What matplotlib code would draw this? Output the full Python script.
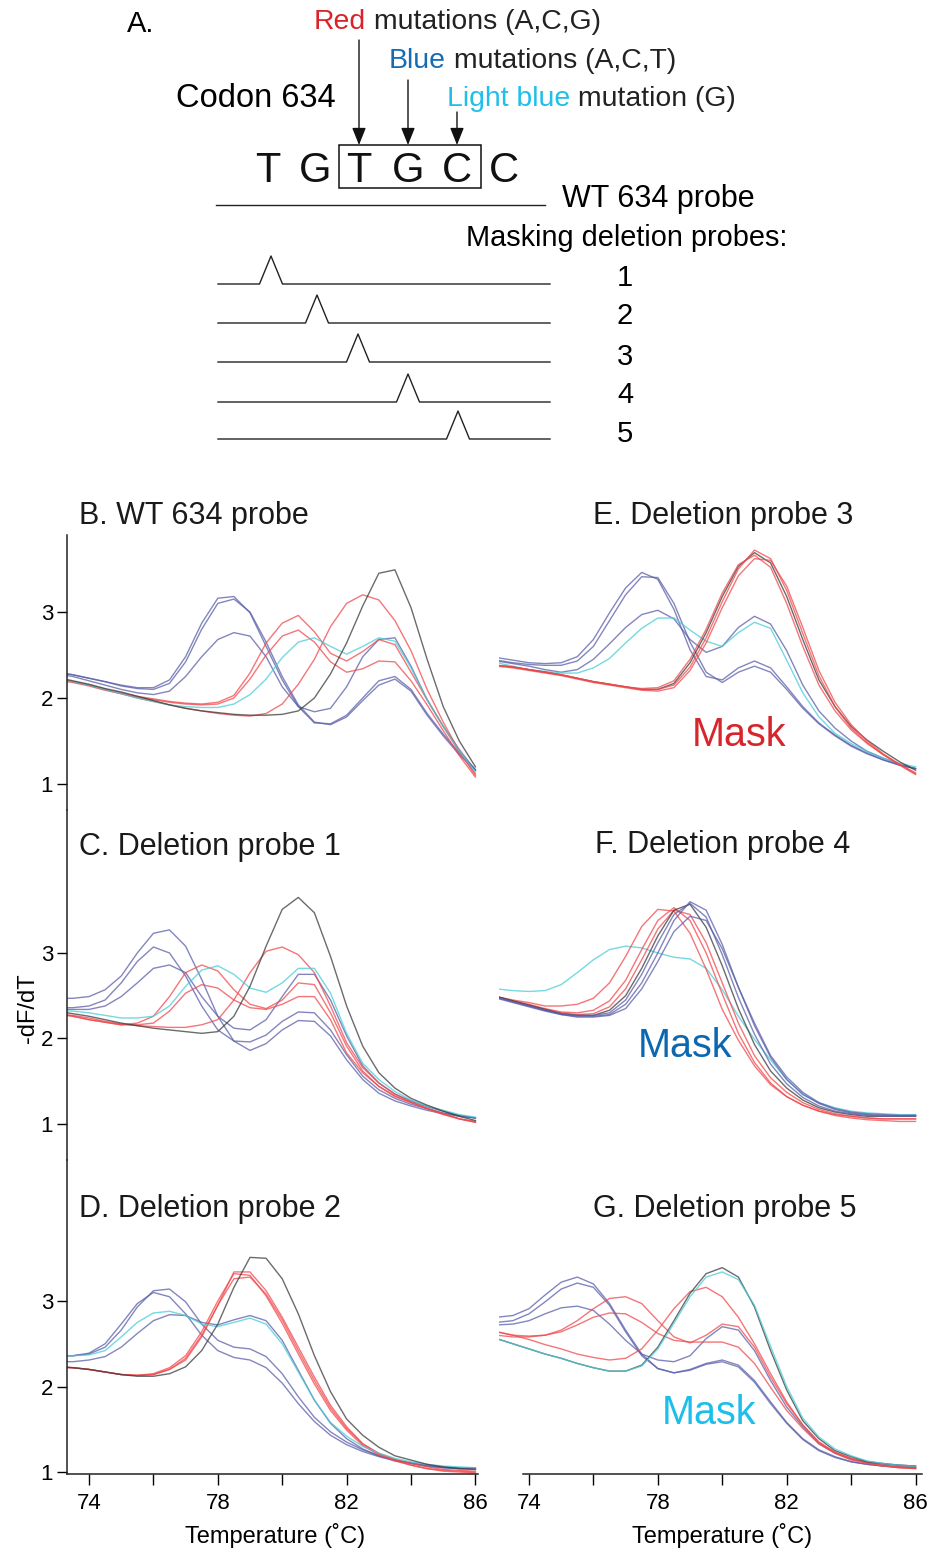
import matplotlib
matplotlib.use("Agg")
import matplotlib.pyplot as plt
from matplotlib.patches import Rectangle
import numpy as np

plt.rcParams['font.family'] = ['Liberation Sans', 'DejaVu Sans']

# temperature grid of the melting curves (deg C)
temps = np.arange(73.0, 86.01, 0.5)

# B. WT 634 probe
b_black = [2.24, 2.20, 2.16, 2.11, 2.07, 2.02, 1.97, 1.92, 1.88, 1.85, 1.83, 1.81, 1.80, 1.80, 1.81, 1.85, 2.00, 2.28, 2.64, 3.07, 3.45, 3.49, 3.05, 2.45, 1.90, 1.50, 1.20]
b_red1 = [2.22, 2.19, 2.15, 2.10, 2.05, 2.00, 1.96, 1.92, 1.88, 1.85, 1.82, 1.80, 1.79, 1.82, 1.93, 2.16, 2.45, 2.83, 3.10, 3.20, 3.14, 2.90, 2.55, 2.10, 1.72, 1.38, 1.10]
b_red2 = [2.22, 2.19, 2.15, 2.10, 2.06, 2.02, 1.99, 1.96, 1.94, 1.93, 1.95, 2.03, 2.29, 2.64, 2.87, 2.96, 2.77, 2.52, 2.43, 2.54, 2.68, 2.62, 2.30, 1.98, 1.67, 1.37, 1.12]
b_red3 = [2.21, 2.18, 2.14, 2.09, 2.05, 2.01, 1.98, 1.95, 1.93, 1.92, 1.93, 2.00, 2.22, 2.50, 2.72, 2.79, 2.65, 2.42, 2.30, 2.34, 2.43, 2.42, 2.20, 1.92, 1.62, 1.33, 1.08]
b_cyan = [2.22, 2.19, 2.15, 2.10, 2.05, 2.00, 1.96, 1.92, 1.90, 1.89, 1.89, 1.93, 2.04, 2.22, 2.47, 2.65, 2.70, 2.60, 2.51, 2.60, 2.70, 2.66, 2.35, 1.98, 1.67, 1.38, 1.14]
b_blue1 = [2.30, 2.27, 2.23, 2.19, 2.15, 2.12, 2.12, 2.21, 2.48, 2.87, 3.16, 3.18, 2.99, 2.60, 2.21, 1.90, 1.71, 1.70, 1.80, 2.00, 2.20, 2.25, 2.10, 1.82, 1.58, 1.36, 1.17]
b_blue2 = [2.30, 2.27, 2.23, 2.19, 2.14, 2.11, 2.10, 2.17, 2.42, 2.80, 3.10, 3.15, 3.00, 2.65, 2.25, 1.92, 1.72, 1.69, 1.78, 1.97, 2.15, 2.22, 2.08, 1.80, 1.56, 1.34, 1.16]
b_blue3 = [2.28, 2.25, 2.20, 2.15, 2.10, 2.06, 2.04, 2.08, 2.25, 2.48, 2.68, 2.76, 2.72, 2.48, 2.13, 1.90, 1.84, 1.88, 2.13, 2.48, 2.68, 2.70, 2.37, 1.98, 1.67, 1.40, 1.16]

# C. Deletion probe 1
c_black = [2.32, 2.29, 2.26, 2.22, 2.18, 2.15, 2.12, 2.10, 2.08, 2.06, 2.08, 2.26, 2.61, 3.08, 3.51, 3.65, 3.47, 2.96, 2.38, 1.91, 1.60, 1.42, 1.30, 1.22, 1.15, 1.09, 1.04]
c_red1 = [2.29, 2.27, 2.24, 2.20, 2.17, 2.15, 2.14, 2.13, 2.13, 2.16, 2.22, 2.45, 2.77, 3.02, 3.07, 2.98, 2.77, 2.38, 1.95, 1.66, 1.48, 1.35, 1.26, 1.18, 1.12, 1.06, 1.02]
c_red2 = [2.29, 2.26, 2.22, 2.19, 2.16, 2.18, 2.26, 2.49, 2.77, 2.86, 2.79, 2.57, 2.40, 2.35, 2.45, 2.65, 2.63, 2.30, 1.91, 1.62, 1.44, 1.32, 1.25, 1.18, 1.11, 1.06, 1.03]
c_red3 = [2.29, 2.26, 2.22, 2.19, 2.16, 2.16, 2.18, 2.32, 2.53, 2.63, 2.59, 2.45, 2.36, 2.34, 2.40, 2.49, 2.49, 2.22, 1.83, 1.60, 1.44, 1.33, 1.25, 1.18, 1.12, 1.06, 1.02]
c_cyan = [2.33, 2.32, 2.30, 2.27, 2.24, 2.24, 2.26, 2.38, 2.61, 2.80, 2.85, 2.75, 2.59, 2.54, 2.65, 2.82, 2.82, 2.53, 2.06, 1.71, 1.52, 1.38, 1.28, 1.21, 1.16, 1.11, 1.08]
c_blue1 = [2.47, 2.47, 2.49, 2.57, 2.73, 3.00, 3.23, 3.27, 3.08, 2.69, 2.26, 1.97, 1.86, 1.94, 2.10, 2.21, 2.20, 2.03, 1.75, 1.52, 1.36, 1.27, 1.21, 1.16, 1.12, 1.09, 1.07]
c_blue2 = [2.36, 2.36, 2.38, 2.45, 2.65, 2.90, 3.07, 3.00, 2.73, 2.38, 2.10, 1.97, 1.96, 2.04, 2.20, 2.31, 2.30, 2.10, 1.81, 1.56, 1.40, 1.30, 1.23, 1.18, 1.13, 1.10, 1.07]
c_blue3 = [2.34, 2.34, 2.34, 2.38, 2.49, 2.65, 2.82, 2.86, 2.77, 2.49, 2.26, 2.12, 2.10, 2.22, 2.49, 2.75, 2.75, 2.45, 2.03, 1.68, 1.48, 1.35, 1.27, 1.20, 1.15, 1.10, 1.07]

# D. Deletion probe 2
d_black = [2.23, 2.22, 2.20, 2.17, 2.14, 2.12, 2.12, 2.15, 2.23, 2.42, 2.73, 3.16, 3.51, 3.50, 3.26, 2.85, 2.36, 1.94, 1.62, 1.43, 1.29, 1.19, 1.14, 1.09, 1.06, 1.04, 1.03]
d_red1 = [2.23, 2.22, 2.20, 2.17, 2.14, 2.13, 2.14, 2.20, 2.31, 2.58, 2.95, 3.34, 3.34, 3.12, 2.81, 2.46, 2.11, 1.78, 1.53, 1.33, 1.21, 1.14, 1.08, 1.04, 1.01, 1.00, 0.99]
d_red2 = [2.23, 2.22, 2.20, 2.17, 2.14, 2.13, 2.15, 2.22, 2.36, 2.64, 3.00, 3.32, 3.30, 3.06, 2.74, 2.38, 2.03, 1.72, 1.49, 1.31, 1.20, 1.13, 1.08, 1.04, 1.02, 1.01, 1.00]
d_red3 = [2.23, 2.22, 2.20, 2.17, 2.14, 2.13, 2.14, 2.20, 2.33, 2.60, 2.95, 3.26, 3.28, 3.08, 2.78, 2.42, 2.07, 1.75, 1.51, 1.33, 1.22, 1.15, 1.10, 1.06, 1.03, 1.02, 1.01]
d_cyan = [2.36, 2.36, 2.37, 2.42, 2.58, 2.75, 2.86, 2.88, 2.83, 2.73, 2.70, 2.75, 2.80, 2.73, 2.50, 2.17, 1.84, 1.58, 1.42, 1.30, 1.22, 1.16, 1.12, 1.09, 1.07, 1.06, 1.05]
d_blue1 = [2.36, 2.36, 2.38, 2.46, 2.66, 2.93, 3.12, 3.14, 2.99, 2.73, 2.54, 2.46, 2.44, 2.35, 2.15, 1.88, 1.64, 1.47, 1.35, 1.26, 1.19, 1.14, 1.10, 1.07, 1.05, 1.04, 1.04]
d_blue2 = [2.36, 2.36, 2.39, 2.50, 2.73, 2.97, 3.10, 3.05, 2.85, 2.60, 2.42, 2.34, 2.31, 2.22, 2.04, 1.80, 1.59, 1.43, 1.32, 1.24, 1.18, 1.13, 1.10, 1.07, 1.05, 1.04, 1.04]
d_blue3 = [2.29, 2.29, 2.31, 2.35, 2.46, 2.62, 2.77, 2.84, 2.83, 2.75, 2.72, 2.78, 2.83, 2.77, 2.54, 2.19, 1.84, 1.57, 1.39, 1.27, 1.19, 1.14, 1.11, 1.08, 1.06, 1.05, 1.05]

# E. Deletion probe 3
e_black = [2.38, 2.36, 2.33, 2.30, 2.27, 2.23, 2.19, 2.16, 2.13, 2.10, 2.10, 2.17, 2.41, 2.76, 3.18, 3.53, 3.69, 3.57, 3.18, 2.68, 2.21, 1.90, 1.67, 1.51, 1.38, 1.26, 1.16]
e_red1 = [2.38, 2.36, 2.33, 2.30, 2.27, 2.23, 2.19, 2.16, 2.13, 2.10, 2.10, 2.15, 2.36, 2.70, 3.12, 3.50, 3.72, 3.62, 3.25, 2.75, 2.26, 1.90, 1.65, 1.48, 1.34, 1.22, 1.11]
e_red2 = [2.37, 2.35, 2.32, 2.29, 2.26, 2.22, 2.18, 2.15, 2.12, 2.09, 2.08, 2.12, 2.32, 2.64, 3.05, 3.42, 3.62, 3.60, 3.30, 2.82, 2.32, 1.95, 1.69, 1.50, 1.35, 1.23, 1.12]
e_red3 = [2.38, 2.36, 2.33, 2.30, 2.27, 2.23, 2.19, 2.16, 2.13, 2.11, 2.12, 2.20, 2.45, 2.80, 3.22, 3.55, 3.66, 3.52, 3.10, 2.60, 2.15, 1.85, 1.63, 1.47, 1.34, 1.23, 1.13]
e_cyan = [2.41, 2.37, 2.33, 2.31, 2.29, 2.29, 2.35, 2.46, 2.64, 2.81, 2.93, 2.93, 2.79, 2.66, 2.60, 2.76, 2.88, 2.81, 2.44, 2.06, 1.78, 1.59, 1.47, 1.38, 1.30, 1.24, 1.20]
e_blue1 = [2.47, 2.44, 2.41, 2.40, 2.41, 2.48, 2.68, 2.99, 3.28, 3.46, 3.38, 3.03, 2.56, 2.25, 2.21, 2.35, 2.43, 2.35, 2.13, 1.90, 1.71, 1.57, 1.45, 1.36, 1.28, 1.22, 1.18]
e_blue2 = [2.44, 2.41, 2.39, 2.38, 2.38, 2.43, 2.60, 2.90, 3.20, 3.41, 3.40, 3.10, 2.65, 2.30, 2.18, 2.30, 2.37, 2.30, 2.10, 1.88, 1.70, 1.56, 1.44, 1.35, 1.28, 1.22, 1.18]
e_blue3 = [2.43, 2.40, 2.37, 2.33, 2.30, 2.33, 2.45, 2.63, 2.82, 2.97, 3.02, 2.92, 2.68, 2.53, 2.60, 2.82, 2.95, 2.86, 2.55, 2.15, 1.85, 1.65, 1.50, 1.38, 1.30, 1.23, 1.18]

# F. Deletion probe 4
f_cyan = [2.58, 2.56, 2.55, 2.56, 2.63, 2.77, 2.92, 3.04, 3.08, 3.06, 3.00, 2.95, 2.93, 2.82, 2.57, 2.26, 1.99, 1.75, 1.52, 1.34, 1.25, 1.19, 1.15, 1.13, 1.12, 1.11, 1.11]
f_red1 = [2.49, 2.45, 2.42, 2.38, 2.38, 2.40, 2.47, 2.65, 2.96, 3.31, 3.51, 3.49, 3.23, 2.81, 2.34, 1.98, 1.68, 1.46, 1.32, 1.22, 1.15, 1.10, 1.07, 1.05, 1.04, 1.03, 1.03]
f_red2 = [2.49, 2.44, 2.40, 2.35, 2.31, 2.30, 2.33, 2.44, 2.68, 3.04, 3.38, 3.53, 3.38, 3.00, 2.52, 2.06, 1.72, 1.48, 1.32, 1.22, 1.15, 1.11, 1.09, 1.07, 1.06, 1.06, 1.06]
f_red3 = [2.49, 2.44, 2.39, 2.34, 2.30, 2.28, 2.29, 2.37, 2.58, 2.92, 3.28, 3.50, 3.45, 3.12, 2.65, 2.18, 1.80, 1.54, 1.37, 1.25, 1.17, 1.12, 1.09, 1.07, 1.06, 1.06, 1.06]
f_black = [2.49, 2.44, 2.39, 2.34, 2.29, 2.27, 2.27, 2.33, 2.50, 2.82, 3.20, 3.50, 3.57, 3.30, 2.85, 2.35, 1.93, 1.62, 1.42, 1.28, 1.19, 1.14, 1.11, 1.09, 1.09, 1.09, 1.09]
f_blue1 = [2.48, 2.43, 2.38, 2.33, 2.28, 2.26, 2.26, 2.28, 2.40, 2.65, 3.00, 3.38, 3.60, 3.50, 3.10, 2.60, 2.15, 1.78, 1.52, 1.35, 1.24, 1.17, 1.13, 1.11, 1.10, 1.10, 1.10]
f_blue2 = [2.47, 2.42, 2.37, 2.32, 2.28, 2.25, 2.25, 2.27, 2.35, 2.58, 2.90, 3.25, 3.43, 3.38, 3.05, 2.60, 2.18, 1.80, 1.55, 1.37, 1.25, 1.18, 1.14, 1.12, 1.11, 1.10, 1.10]
f_blue3 = [2.48, 2.43, 2.38, 2.33, 2.29, 2.27, 2.27, 2.30, 2.45, 2.75, 3.12, 3.45, 3.58, 3.42, 2.98, 2.48, 2.05, 1.70, 1.47, 1.31, 1.21, 1.15, 1.12, 1.10, 1.09, 1.09, 1.09]

# G. Deletion probe 5
g_black = [2.56, 2.50, 2.44, 2.38, 2.33, 2.27, 2.22, 2.18, 2.18, 2.25, 2.46, 2.77, 3.09, 3.32, 3.39, 3.28, 2.93, 2.42, 1.96, 1.60, 1.39, 1.25, 1.18, 1.12, 1.10, 1.08, 1.07]
g_cyan = [2.56, 2.50, 2.44, 2.38, 2.33, 2.27, 2.22, 2.18, 2.18, 2.24, 2.44, 2.74, 3.05, 3.28, 3.34, 3.25, 2.95, 2.47, 2.00, 1.63, 1.41, 1.27, 1.19, 1.13, 1.10, 1.08, 1.07]
g_red1 = [2.64, 2.60, 2.55, 2.49, 2.44, 2.38, 2.34, 2.31, 2.33, 2.44, 2.66, 2.91, 3.11, 3.16, 3.05, 2.81, 2.50, 2.15, 1.82, 1.55, 1.35, 1.23, 1.16, 1.11, 1.08, 1.06, 1.05]
g_red2 = [2.64, 2.60, 2.59, 2.60, 2.66, 2.77, 2.91, 3.03, 3.05, 2.97, 2.77, 2.58, 2.51, 2.60, 2.73, 2.70, 2.46, 2.11, 1.80, 1.55, 1.35, 1.23, 1.16, 1.11, 1.07, 1.05, 1.04]
g_red3 = [2.60, 2.58, 2.58, 2.60, 2.64, 2.72, 2.81, 2.86, 2.85, 2.75, 2.62, 2.54, 2.52, 2.52, 2.52, 2.46, 2.27, 1.99, 1.72, 1.51, 1.33, 1.22, 1.14, 1.10, 1.07, 1.05, 1.04]
g_blue1 = [2.81, 2.83, 2.91, 3.07, 3.22, 3.28, 3.20, 2.97, 2.66, 2.38, 2.21, 2.16, 2.20, 2.27, 2.31, 2.25, 2.07, 1.82, 1.58, 1.39, 1.26, 1.18, 1.12, 1.09, 1.07, 1.06, 1.05]
g_blue2 = [2.75, 2.77, 2.85, 2.99, 3.14, 3.21, 3.16, 2.95, 2.64, 2.36, 2.21, 2.16, 2.19, 2.26, 2.29, 2.23, 2.05, 1.80, 1.57, 1.38, 1.25, 1.17, 1.12, 1.09, 1.07, 1.06, 1.05]
g_blue3 = [2.72, 2.73, 2.77, 2.85, 2.92, 2.94, 2.89, 2.73, 2.54, 2.38, 2.31, 2.29, 2.36, 2.56, 2.70, 2.66, 2.42, 2.07, 1.76, 1.53, 1.33, 1.22, 1.15, 1.11, 1.09, 1.08, 1.07]

# schematic: peak position of the deletion bump of each masking probe
probe_numbers = ['1', '2', '3', '4', '5']
bump_x = [271, 317, 358, 408, 458]
codon_letters = ['T', 'G', 'T', 'G', 'C', 'C']

BLUE = '#5a5ea8'
RED = '#f0484c'
CYAN = '#45cdd6'
BLACK = '#3a3a3a'

panels = {
    'B': [(b_blue1, BLUE), (b_blue2, BLUE), (b_blue3, BLUE), (b_red1, RED), (b_red2, RED), (b_red3, RED), (b_cyan, CYAN), (b_black, BLACK)],
    'C': [(c_blue1, BLUE), (c_blue2, BLUE), (c_blue3, BLUE), (c_red1, RED), (c_red2, RED), (c_red3, RED), (c_cyan, CYAN), (c_black, BLACK)],
    'D': [(d_blue1, BLUE), (d_blue2, BLUE), (d_blue3, BLUE), (d_red1, RED), (d_red2, RED), (d_red3, RED), (d_cyan, CYAN), (d_black, BLACK)],
    'E': [(e_blue1, BLUE), (e_blue2, BLUE), (e_blue3, BLUE), (e_cyan, CYAN), (e_black, BLACK), (e_red1, RED), (e_red2, RED), (e_red3, RED)],
    'F': [(f_cyan, CYAN), (f_red1, RED), (f_red2, RED), (f_red3, RED), (f_black, BLACK), (f_blue1, BLUE), (f_blue2, BLUE), (f_blue3, BLUE)],
    'G': [(g_blue1, BLUE), (g_blue2, BLUE), (g_blue3, BLUE), (g_red1, RED), (g_red2, RED), (g_red3, RED), (g_black, BLACK), (g_cyan, CYAN)],
}

W, H = 933, 1548
fig = plt.figure(figsize=(W / 100, H / 100), dpi=100)


def rect(x0, y0, x1, y1):
    # pixel box (top-left origin) -> figure fraction
    return [x0 / W, 1 - y1 / H, (x1 - x0) / W, (y1 - y0) / H]


rows = [(535, 810, (0.698, 3.895)), (810, 1160, (0.579, 4.672)), (1160, 1474, (0.977, 4.649))]
layout = {
    'B': (0, 0), 'C': (0, 1), 'D': (0, 2),
    'E': (1, 0), 'F': (1, 1), 'G': (1, 2),
}
cols = [(67, 478, (73.317, 86.08)), (499, 922, (73.07, 86.2))]

for name, (ci, ri) in layout.items():
    x0, x1, xl = cols[ci]
    y0, y1, yl = rows[ri]
    ax = fig.add_axes(rect(x0, y0, x1, y1))
    ax.patch.set_alpha(0)
    for vals, col in panels[name]:
        ax.plot(temps, vals, color=col, lw=1.0, alpha=0.75, solid_joinstyle='round')
    ax.set_xlim(*xl)
    ax.set_ylim(*yl)
    ax.spines['top'].set_visible(False)
    ax.spines['right'].set_visible(False)
    for s in ax.spines.values():
        s.set_linewidth(1.1)
        s.set_color('#222222')
    if ci == 0:
        ax.set_yticks([1, 2, 3])
        ax.tick_params(axis='y', direction='out', length=7, width=1.0, pad=3, labelsize=16)
    else:
        ax.spines['left'].set_visible(False)
        ax.set_yticks([])
    if ri == 2:
        ax.set_xticks([74, 76, 78, 80, 82, 84, 86])
        ax.set_xticklabels(['74', '', '78', '', '82', '', '86'])
        ax.tick_params(axis='x', direction='out', length=8, width=1.0, pad=6, labelsize=16)
        if ci == 1:
            ax.spines['bottom'].set_bounds(73.8, 86.2)
    else:
        ax.spines['bottom'].set_visible(False)
        ax.set_xticks([])

# overlay in pixel coordinates for schematic and labels
ax0 = fig.add_axes([0, 0, 1, 1])
ax0.set_xlim(0, W)
ax0.set_ylim(H, 0)
ax0.axis('off')
ax0.patch.set_alpha(0)

fig.canvas.draw()
renderer = fig.canvas.get_renderer()


def multicolor(x, y, parts, size):
    for txt, col in parts:
        t = ax0.text(x, y, txt, color=col, fontsize=size, ha='left', va='baseline')
        bb = t.get_window_extent(renderer=renderer)
        x = ax0.transData.inverted().transform((bb.x1, bb.y0))[0]


# panel A
ax0.text(127, 32, 'A.', fontsize=21, va='baseline')
multicolor(314, 29, [('Red', '#d8232a'), (' mutations (A,C,G)', '#222222')], 20.4)
multicolor(389, 68, [('Blue', '#146cb4'), (' mutations (A,C,T)', '#222222')], 20.4)
multicolor(447, 106, [('Light blue', '#20bfea'), (' mutation (G)', '#222222')], 20.4)
ax0.text(176, 107, 'Codon 634', fontsize=23.5, va='baseline')

letter_x = [268, 315, 359, 408, 457, 504]
for lx, ch in zip(letter_x, codon_letters):
    ax0.text(lx, 182, ch, fontsize=30, ha='center', va='baseline', color='#111111')
ax0.add_patch(Rectangle((339, 145), 142, 43, fill=False, lw=1.1, ec='#111111'))

for ax_x, y_start in zip([359, 408, 457], [40, 80, 112]):
    ax0.annotate('', xy=(ax_x, 145), xytext=(ax_x, y_start),
                 arrowprops=dict(arrowstyle='-|>,head_length=0.7,head_width=0.28',
                                 color='#111111', lw=1.0, mutation_scale=15,
                                 shrinkA=0, shrinkB=0))

ax0.plot([216, 545], [205, 205], color='#222222', lw=1.0)
ax0.text(562, 207, 'WT 634 probe', fontsize=22, va='baseline')
ax0.text(466, 246, 'Masking deletion probes:', fontsize=20.8, va='baseline')

base_y = [284, 323, 362, 402, 439]
num_y = [286, 324, 365, 403, 442]
for num, bx, by, ny in zip(probe_numbers, bump_x, base_y, num_y):
    ax0.plot([218, bx - 11.5, bx, bx + 11.5, 550], [by, by, by - 28, by, by],
             color='#222222', lw=1.0)
    ax0.text(625, ny, num, fontsize=21, ha='center', va='baseline')

# panel titles
titles = [(79, 524, 'B. WT 634 probe'), (79, 855, 'C. Deletion probe 1'),
          (79, 1217, 'D. Deletion probe 2'), (593, 524, 'E. Deletion probe 3'),
          (595, 853, 'F. Deletion probe 4'), (593, 1217, 'G. Deletion probe 5')]
for tx, ty, tt in titles:
    ax0.text(tx, ty, tt, fontsize=22, va='baseline', color='#1a1a1a')

ax0.text(692, 746, 'Mask', fontsize=28.5, color='#d7262b', va='baseline')
ax0.text(638, 1057, 'Mask', fontsize=28.5, color='#0b68b0', va='baseline')
ax0.text(662, 1424, 'Mask', fontsize=28.5, color='#1bbfe9', va='baseline')

ax0.text(28, 1008, '-dF/dT', fontsize=17, rotation=90, ha='center', va='center')
ax0.text(275, 1535, 'Temperature (˚C)', fontsize=17, ha='center', va='center')
ax0.text(722, 1535, 'Temperature (˚C)', fontsize=17, ha='center', va='center')

fig.savefig('out.png', dpi=100)
